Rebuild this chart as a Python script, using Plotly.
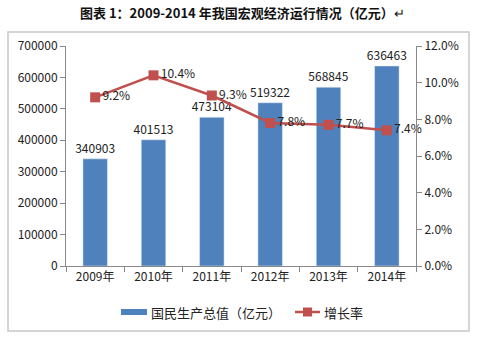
import plotly.graph_objects as go

years = ["2009年", "2010年", "2011年", "2012年", "2013年", "2014年"]
gdp = [340903, 401513, 473104, 519322, 568845, 636463]
growth = [9.2, 10.4, 9.3, 7.8, 7.7, 7.4]
gdp_ticks = [0, 100000, 200000, 300000, 400000, 500000, 600000, 700000]
pct_ticks = [0, 2, 4, 6, 8, 10, 12]
name_gdp = "国民生产总值（亿元）"
name_growth = "增长率"

W, H = 491, 342
L, R, T, B = 66, 75, 46, 76
pw, ph = W - L - R, H - T - B

def px(x):
    return (x - L) / pw

def py(y):
    return (H - B - y) / ph

font = "Noto Sans CJK SC, Noto Sans, sans-serif"
blue = "#4F81BD"
red = "#C0504D"

fig = go.Figure()
fig.add_trace(go.Bar(
    x=years, y=gdp, name=name_gdp, marker_color=blue,
    width=0.42, text=[str(v) for v in gdp], textposition="outside",
    constraintext="none",
    textfont=dict(size=12, color="#222"), cliponaxis=False,
))
fig.add_trace(go.Scatter(
    x=years, y=growth, yaxis="y2", name=name_growth, mode="lines+markers+text",
    line=dict(color=red, width=2.5),
    marker=dict(symbol="square", size=10, color=red),
    text=[f"{v:.1f}%" for v in growth], textposition="middle right",
    textfont=dict(size=12, color="#222"), cliponaxis=False,
))

fig.update_layout(
    width=W, height=H, margin=dict(l=L, r=R, t=T, b=B),
    paper_bgcolor="white", plot_bgcolor="white",
    font=dict(family=font, size=12, color="#333"),
    showlegend=False,
    xaxis=dict(showline=True, linecolor="#888", ticks="outside", tickcolor="#888",
               ticklen=5, tickson="boundaries", showgrid=False,
               tickfont=dict(size=12, color="#222")),
    yaxis=dict(range=[0, 700000], tickvals=gdp_ticks, ticktext=[str(v) for v in gdp_ticks],
               showline=True, linecolor="#888",
               ticks="outside", tickcolor="#888", ticklen=5, showgrid=False, zeroline=False,
               tickfont=dict(size=12, color="#222")),
    yaxis2=dict(range=[0, 12], tickvals=pct_ticks, ticktext=[f"{v:.1f}%" for v in pct_ticks],
                overlaying="y", side="right", showline=True, linecolor="#888",
                ticks="outside", tickcolor="#888", ticklen=5, showgrid=False, zeroline=False,
                tickfont=dict(size=12, color="#222")),
)

# title
fig.add_annotation(text="<b>图表 1：2009-2014 年我国宏观经济运行情况（亿元）</b>↵", xref="paper", yref="paper",
                   x=px(242), y=py(12), xanchor="center", yanchor="middle", showarrow=False,
                   font=dict(size=13, color="#111"))
# chart border
fig.add_shape(type="rect", xref="paper", yref="paper", x0=px(8), x1=px(469), y0=py(331), y1=py(32),
              line=dict(color="#C8C8C8", width=1.5), layer="below")

# manual legend
ly = 312
fig.add_shape(type="rect", xref="paper", yref="paper", x0=px(121), x1=px(147), y0=py(315), y1=py(309),
              fillcolor=blue, line=dict(width=0))
fig.add_annotation(text=name_gdp, xref="paper", yref="paper", x=px(149), y=py(ly),
                   xanchor="left", yanchor="middle", showarrow=False, font=dict(size=13, color="#222"))
fig.add_shape(type="line", xref="paper", yref="paper", x0=px(295), x1=px(320), y0=py(ly), y1=py(ly),
              line=dict(color=red, width=2.5))
fig.add_shape(type="rect", xref="paper", yref="paper", x0=px(303), x1=px(312), y0=py(ly + 4.5), y1=py(ly - 4.5),
              fillcolor=red, line=dict(width=0))
fig.add_annotation(text=name_growth, xref="paper", yref="paper", x=px(322), y=py(ly),
                   xanchor="left", yanchor="middle", showarrow=False, font=dict(size=13, color="#222"))

fig.write_html("out.html")
